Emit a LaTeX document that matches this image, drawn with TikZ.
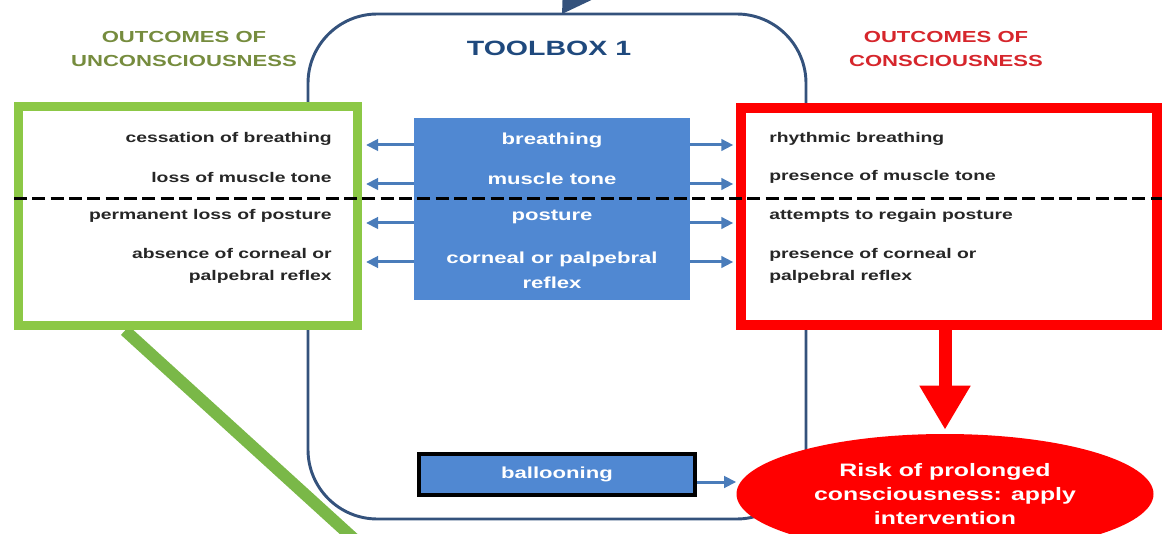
\documentclass[tikz,border=0pt]{standalone}
\usepackage{fontspec}
\setmainfont{Liberation Sans}[FakeStretch=1.38]
\usetikzlibrary{arrows.meta,shapes.geometric,backgrounds}

\definecolor{fillblue}{RGB}{80,136,210}
\definecolor{linkblue}{RGB}{74,124,186}
\definecolor{framegray}{RGB}{52,82,124}
\definecolor{titleblue}{RGB}{31,73,125}
\definecolor{boxgreen}{RGB}{140,200,70}
\definecolor{tailgreen}{RGB}{122,184,72}
\definecolor{headgreen}{RGB}{118,140,62}
\definecolor{headred}{RGB}{214,38,44}

\begin{document}
\begin{tikzpicture}[x=0.75pt,y=-0.75pt,
    side/.style={font=\fontsize{10.5}{16.5}\selectfont\bfseries,text=black!85,inner sep=0pt},
    tool/.style={font=\fontsize{12}{18.75}\selectfont\bfseries,text=white,inner sep=0pt,align=center},
    head/.style={font=\fontsize{12}{18}\selectfont\bfseries,align=center},
    link/.style={draw=linkblue,line width=2.25pt,-{Triangle[length=9pt,width=8.5pt]}}]
  \useasboundingbox (0,0) rectangle (1163,534);

  % toolbox frame and the arrow coming into it
  \node[draw=framegray,line width=2.2pt,rounded corners=52pt,
        minimum width=373.5pt,minimum height=378.75pt] (tbx) at (557,266.5) {};
  \node[font=\fontsize{15.5}{18}\selectfont\bfseries,text=titleblue] (title) at (549,48) {TOOLBOX 1};
  \coordinate (feed) at (604,-50);
  \draw[draw=framegray,line width=3pt,-{Triangle[length=22pt,width=26pt]}] (feed) -- (562,14);

  % outcome boxes
  \node[draw=boxgreen,fill=white,line width=6.75pt,minimum width=254.25pt,
        minimum height=164.25pt] (unc) at (188,216.5) {};
  \node[draw=red,fill=white,line width=7.5pt,minimum width=312pt,
        minimum height=162.75pt] (con) at (949,216.5) {};
  \node[fill=fillblue,minimum width=207pt,minimum height=136.5pt] (tools) at (552,209) {};
  \begin{scope}[on background layer]
    \coordinate (tail) at (364,548);
    \draw[draw=tailgreen,line width=9pt] (unc.south -| 125,0) -- (tail);
  \end{scope}

  \path (184,49) node[head,text=headgreen] (hunc) {OUTCOMES OF\\UNCONSCIOUSNESS}
        (946,49) node[head,text=headred]   (hcon) {OUTCOMES OF\\CONSCIOUSNESS};

  \path (332,139) node[side,anchor=east] (u1) {cessation of breathing}
        (332,177) node[side,anchor=east] (u2) {loss of muscle tone}
        (332,216) node[side,anchor=east] (u3) {permanent loss of posture}
        (332,266) node[side,anchor=east,align=right] (u4) {absence of corneal or\\palpebral reflex};
  \path (552,140) node[tool] (t1) {breathing}
        (552,179) node[tool] (t2) {muscle tone}
        (552,217) node[tool] (t3) {posture}
        (552,270) node[tool] (t4) {corneal or palpebral\\reflex};
  \path (769,139) node[side,anchor=west] (c1) {rhythmic breathing}
        (769,177) node[side,anchor=west] (c2) {presence of muscle tone}
        (769,216) node[side,anchor=west] (c3) {attempts to regain posture}
        (769,266) node[side,anchor=west,align=left] (c4) {presence of corneal or\\palpebral reflex};

  \foreach \y in {145,184,223,262} {
    \draw[link,shorten >=3pt] (tools.west |- 0,\y) -- (unc.east |- 0,\y);
    \draw[link,shorten >=2pt] (tools.east |- 0,\y) -- (con.west |- 0,\y);
  }

  % dashed split between the rows
  \draw[line width=2.25pt,dash pattern=on 9.75pt off 4pt] (unc.west |- 0,199) -- (con.east |- 0,199);

  % ballooning and the risk of prolonged consciousness
  \node[draw=black,fill=fillblue,line width=3pt,minimum width=207pt,minimum height=30.75pt,
        font=\fontsize{12}{14}\selectfont\bfseries,text=white] (ball) at (557,474.5) {ballooning};
  \node[ellipse,fill=red,inner sep=0pt,minimum width=312.75pt,minimum height=90pt,align=center,
        font=\fontsize{13.5}{18}\selectfont\bfseries,text=white] (risk) at (945,494)
        {Risk of prolonged\\consciousness: apply\\intervention};
  \draw[link] (ball.east |- 0,482) -- (risk.west |- 0,482);
  \draw[draw=red,line width=9.75pt,-{Triangle[length=33pt,width=36pt]},shorten >=3pt]
        (con.south -| risk.north) -- (risk.north);
\end{tikzpicture}
\end{document}
